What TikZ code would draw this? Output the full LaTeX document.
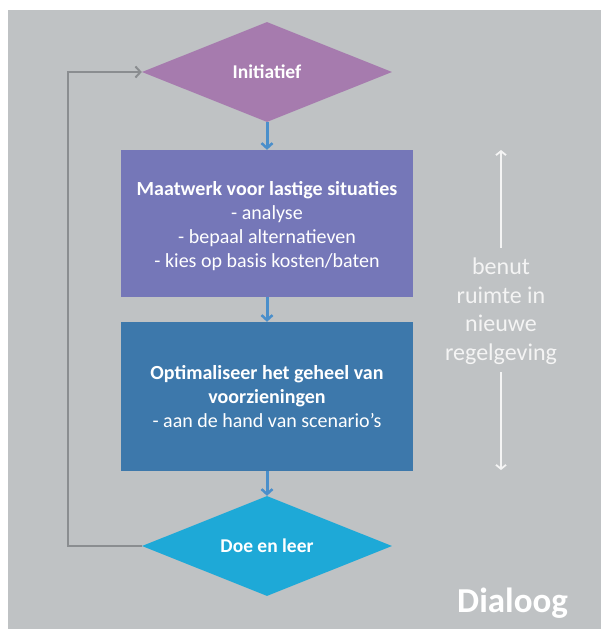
\documentclass[tikz,border=0pt]{standalone}
\usepackage{fontspec}
\setmainfont{Carlito}
\usetikzlibrary{shapes.geometric,arrows.meta}
\definecolor{bggray}{HTML}{BFC2C4}
\definecolor{purp}{HTML}{A67BAE}
\definecolor{boxone}{HTML}{7577B8}
\definecolor{boxtwo}{HTML}{3D78AB}
\definecolor{cyanbox}{HTML}{1EA9D7}
\definecolor{arrowblue}{HTML}{4A8FCB}
\definecolor{loopgray}{HTML}{8A8D90}
\definecolor{softwhite}{HTML}{F4F4F4}
\tikzset{
  dia/.style={diamond, aspect=2.5, inner sep=0pt, minimum width=250pt, minimum height=100pt, text=white, font=\fontsize{19.5}{22}\selectfont\bfseries},
  panel/.style={rectangle, inner sep=0pt, minimum width=292pt, text=white, align=center, font=\fontsize{20}{24}\selectfont},
  flowarrow/.style={draw=arrowblue, line width=3pt, -{Straight Barb[length=5pt,width=11pt,line width=2.5pt]}},
  looparrow/.style={draw=loopgray, line width=2.5pt, -{Straight Barb[length=5pt,width=11pt,line width=2pt]}},
  whitearrow/.style={draw=softwhite, line width=2.2pt, -{Straight Barb[length=4pt,width=10pt,line width=1.8pt]}}
}
\begin{document}
\begin{tikzpicture}[x=1pt,y=-1pt]
\useasboundingbox (0,0) rectangle (601,629);
\fill[bggray] (8,10) rectangle (601,629);
\node[dia, fill=purp] (init) at (267,72) {Initiatief};
\node[panel, fill=boxone, minimum height=147pt] (maat) at (267,223.5) {};
\node[text=white, align=center, inner sep=0pt, font=\fontsize{20}{24}\selectfont] (maattext) at (267,226.5) {\textbf{Maatwerk voor lastige situaties}\\- analyse\\- bepaal alternatieven\\- kies op basis kosten/baten};
\node[panel, fill=boxtwo, minimum height=149pt] (opt) at (267,396.5) {\textbf{Optimaliseer het geheel van}\\\textbf{voorzieningen}\\- aan de hand van scenario’s};
\node[dia, fill=cyanbox] (doe) at (267,546) {Doe en leer};
\draw[flowarrow] (init.south) -- (maat.north);
\draw[flowarrow] (maat.south) -- (opt.north);
\draw[flowarrow] (opt.south) -- (doe.north);
\draw[looparrow] (doe.west) -- ++(-74,0) |- (init.west);
\node[text=softwhite, align=center, font=\fontsize{24}{28.5}\selectfont] (ruimte) at (501,311) {benut\\ruimte in\\nieuwe\\regelgeving};
\coordinate (ua) at (501,248);
\coordinate (ut) at (501,150);
\coordinate (da) at (501,372);
\coordinate (dt) at (501,470);
\draw[whitearrow] (ua) -- (ut);
\draw[whitearrow] (da) -- (dt);
\node[anchor=base west, inner sep=0pt, text=white, font=\fontsize{35}{40}\selectfont\bfseries] (dial) at (457,612) {Dialoog};
\end{tikzpicture}
\end{document}
